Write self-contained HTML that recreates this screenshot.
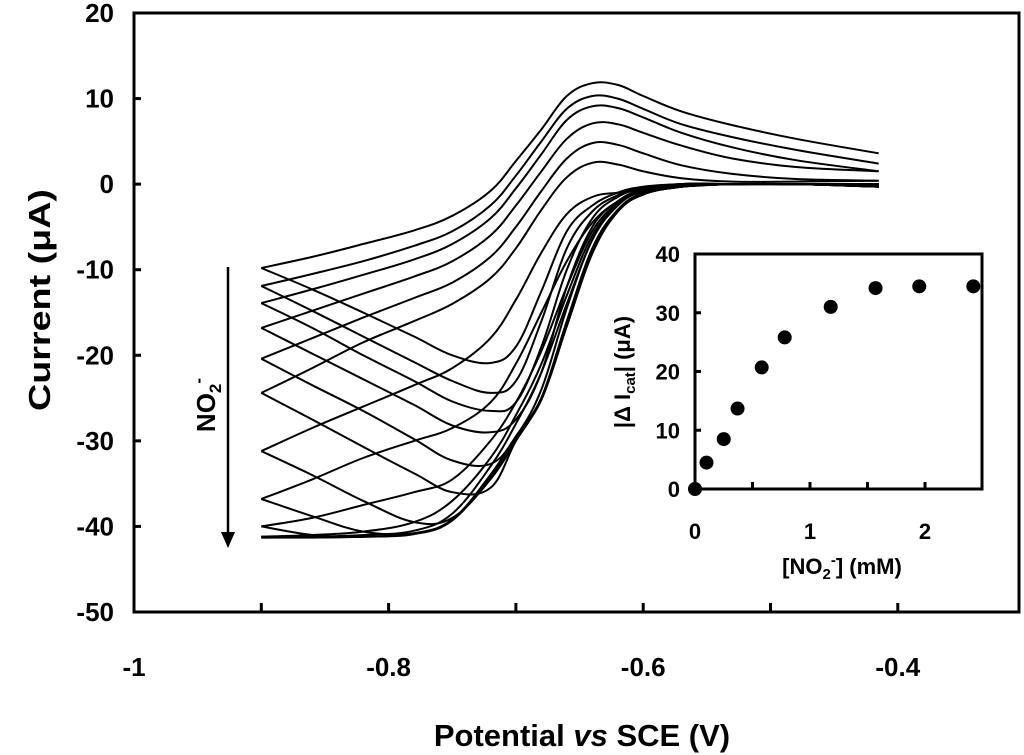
<!DOCTYPE html>
<html><head><meta charset="utf-8"><style>
html,body{margin:0;padding:0;background:#fff;}
svg{display:block;font-family:"Liberation Sans",Arial,sans-serif;font-weight:bold;}
</style></head><body>
<svg id="chart" width="1024" height="755" viewBox="0 0 1024 755" xmlns="http://www.w3.org/2000/svg">
<g id="curves"></g>
<rect x="134" y="13" width="885" height="599" fill="none" stroke="#000" stroke-width="3"/>
<g id="axes"></g>
<text transform="translate(50,300) rotate(-90)" text-anchor="middle" font-size="31" textLength="222" lengthAdjust="spacingAndGlyphs">Current (μA)</text>
<text x="582" y="746" text-anchor="middle" font-size="31">Potential <tspan font-style="italic">vs</tspan>  SCE (V)</text>
<g>
<line x1="228" y1="267" x2="228" y2="535" stroke="#000" stroke-width="2.5"/>
<polygon points="221,532 235,532 228,548" fill="#000"/>
</g>
<text transform="translate(215,405) rotate(-90)" text-anchor="middle" font-size="26">NO<tspan font-size="17" dy="6">2</tspan><tspan font-size="17" dy="-17">-</tspan></text>
<g id="inset">
<rect x="695" y="254" width="287" height="235" fill="#fff" stroke="#000" stroke-width="3"/>
</g>
<text transform="translate(630,372) rotate(-90)" text-anchor="middle" font-size="22">|Δ I<tspan font-size="15" dy="5">cat</tspan><tspan dy="-5">| (μA)</tspan></text>
<text x="842" y="574" text-anchor="middle" font-size="22">[NO<tspan font-size="15" dy="5">2</tspan><tspan font-size="15" dy="-14">-</tspan><tspan dy="9">] (mM)</tspan></text>
</svg>
<script>
// main chart data
const potentials=[-0.9,-0.86,-0.82,-0.78,-0.75,-0.72,-0.70,-0.68,-0.66,-0.64,-0.62,-0.60,-0.57,-0.53,-0.48,-0.415];
const upperBranches=[
[-9.8,-8.5,-7,-5.4,-3.7,-0.8,2.7,6.4,10.3,11.8,11.6,10.3,8.5,6.9,5.3,3.6],
[-11.9,-10.5,-9,-7.2,-5.5,-2.5,1,5,8.8,10.3,10,8.8,7,5.5,4,2.4],
[-13.9,-12.3,-10.6,-8.8,-7,-4,-0.5,3.5,7.5,9.1,8.9,7.8,6,4.3,2.8,1.5],
[-16.8,-14.8,-12.8,-10.8,-9,-6,-2.5,1.5,5.3,7.1,7,6,4.5,3,2,1.5],
[-20.4,-18,-15.6,-13.3,-11.5,-8.5,-5,-0.8,3,4.8,4.6,3.6,2.2,1.2,0.6,0.4],
[-24.4,-21.5,-18.5,-16,-14,-11,-7.5,-3,0.8,2.5,2.3,1.5,0.7,0.3,0.3,0.4],
[-31.2,-28.5,-26,-23.5,-21.5,-18,-13.5,-8,-3.5,-1.5,-1,-0.7,-0.3,0,0,-0.3],
[-36.8,-34.5,-32,-30,-28.5,-25.5,-21,-15,-9,-4.5,-2,-0.7,-0.2,0,0,-0.3],
[-40,-39,-37.5,-36,-34.5,-30,-25.5,-19.5,-12,-5.5,-2.2,-0.7,-0.2,0,0,-0.3],
[-41.2,-41,-40.6,-39.5,-37,-32,-27,-21,-13,-6,-2.4,-0.8,-0.2,0,0,-0.3],
[-41.3,-41.2,-41,-40.5,-38.5,-33,-28,-22,-14,-6.5,-2.5,-0.8,-0.2,0,0,-0.3]];
const lowerBranches=[
[-9.8,-12.3,-15,-17.8,-20,-20.9,-19,-12.5,-5.5,-2.5,-1,-0.3,0,0,0,0],
[-11.9,-14.8,-17.8,-20.8,-23,-24.4,-23,-16,-7.5,-3.2,-1.3,-0.4,0,0,0,0],
[-13.9,-16.8,-20,-23,-25.4,-26.5,-25.5,-19,-10,-4,-1.5,-0.5,0,0,0,0],
[-16.8,-19.8,-22.8,-25.8,-28.2,-29,-27.5,-22,-12,-5,-2,-0.6,0,0,0,0],
[-20.4,-23.5,-26.5,-29.8,-32.3,-32.7,-29.5,-24,-14.5,-6.5,-2.5,-0.8,0,0,0,0],
[-24.4,-27.5,-30.7,-33.8,-36,-35.5,-30,-25,-16,-7.5,-3,-1,0,0,0,0],
[-31.2,-34,-37,-39.5,-39,-34.5,-30,-25,-16.5,-8,-3.2,-1.2,-0.3,0,0,0],
[-36.8,-38.8,-40.6,-40.8,-39.2,-34,-29.5,-25,-16.5,-8,-3.2,-1.2,-0.3,0,0,0],
[-40,-41,-41.2,-40.8,-39.2,-34,-29.5,-25,-16.5,-8,-3.2,-1.2,-0.3,0,0,0],
[-41.2,-41.2,-41.2,-40.8,-39.2,-34,-29.5,-25,-16.5,-8,-3.2,-1.2,-0.3,0,0,0],
[-41.3,-41.3,-41.2,-40.9,-39.3,-34.2,-29.6,-25.2,-16.6,-8.1,-3.2,-1.2,-0.3,0,0,0]];
const yTicks=[20,10,0,-10,-20,-30,-40,-50];
const xTickValues=[-0.9,-0.8,-0.7,-0.6,-0.5,-0.4];
const xTickLabels=[[-1,"-1"],[-0.8,"-0.8"],[-0.6,"-0.6"],[-0.4,"-0.4"]];
// inset data
const insetConc=[0,0.1,0.25,0.37,0.58,0.78,1.18,1.57,1.95,2.42];
const insetCurrent=[0,4.5,8.5,13.7,20.7,25.8,31,34.2,34.5,34.5];
const insetYTicks=[0,10,20,30,40];
const insetXLabels=[0,1,2];
const insetXTicks=[0.5,1,1.5,2];

const NS="http://www.w3.org/2000/svg";
const X=v=>134+(v+1)*1273;
const Y=v=>13+(20-v)*599/70;
const IX=v=>695+v*115;
const IY=v=>489-v*235/40;
function mk(tag,attrs,parent,text){const e=document.createElementNS(NS,tag);for(const k in attrs)e.setAttribute(k,attrs[k]);if(text!==undefined)e.textContent=text;parent.appendChild(e);return e;}
function spline(pts){let d="M"+pts[0][0].toFixed(1)+","+pts[0][1].toFixed(1);
for(let i=0;i<pts.length-1;i++){const p0=pts[Math.max(0,i-1)],p1=pts[i],p2=pts[i+1],p3=pts[Math.min(pts.length-1,i+2)];
const t=0.18;const c1=[p1[0]+(p2[0]-p0[0])*t,p1[1]+(p2[1]-p0[1])*t],c2=[p2[0]-(p3[0]-p1[0])*t,p2[1]-(p3[1]-p1[1])*t];
d+="C"+c1[0].toFixed(1)+","+c1[1].toFixed(1)+" "+c2[0].toFixed(1)+","+c2[1].toFixed(1)+" "+p2[0].toFixed(1)+","+p2[1].toFixed(1);}return d;}
const cg=document.getElementById("curves");
upperBranches.forEach((up,k)=>{
 const lo=lowerBranches[k];
 const pu=potentials.map((p,i)=>[X(p),Y(up[i])]);
 const pl=potentials.map((p,i)=>[X(p),Y(lo[i])]);
 const eu=mk("path",{d:spline(pu),fill:"none",stroke:"#000","stroke-width":"2","stroke-linejoin":"round"},cg);
 
 
 const el=mk("path",{d:spline(pl),fill:"none",stroke:"#000","stroke-width":"2","stroke-linejoin":"round"},cg);
 
 
});
const ag=document.getElementById("axes");
yTicks.forEach(v=>{
 const t=mk("line",{x1:134,x2:141,y1:Y(v),y2:Y(v),stroke:"#000","stroke-width":3},ag);
 
 
 const l=mk("text",{x:114,y:Y(v)+9,"text-anchor":"end","font-size":"26"},ag,String(v));
 
 
});
xTickValues.forEach(v=>{
 const t=mk("line",{x1:X(v),x2:X(v),y1:612,y2:603,stroke:"#000","stroke-width":3},ag);
 
 
});
xTickLabels.forEach(([v,s])=>{
 const l=mk("text",{x:X(v),y:676,"text-anchor":"middle","font-size":"26"},ag,s);
 
 
});
const ig=document.getElementById("inset");
insetYTicks.forEach(v=>{
 const t=mk("line",{x1:695,x2:701,y1:IY(v),y2:IY(v),stroke:"#000","stroke-width":3},ig);
 
 
 const l=mk("text",{x:680,y:IY(v)+8,"text-anchor":"end","font-size":"22"},ig,String(v));
 
 
});
insetXTicks.forEach(v=>{
 const t=mk("line",{x1:IX(v),x2:IX(v),y1:489,y2:482,stroke:"#000","stroke-width":3},ig);
 
 
});
insetXLabels.forEach(v=>{
 const l=mk("text",{x:IX(v),y:539,"text-anchor":"middle","font-size":"22"},ig,String(v));
 
 
});
insetConc.forEach((c,i)=>{
 const d=mk("circle",{cx:IX(c),cy:IY(insetCurrent[i]),r:7,fill:"#000"},ig);
 
 
});
</script>
</body></html>
